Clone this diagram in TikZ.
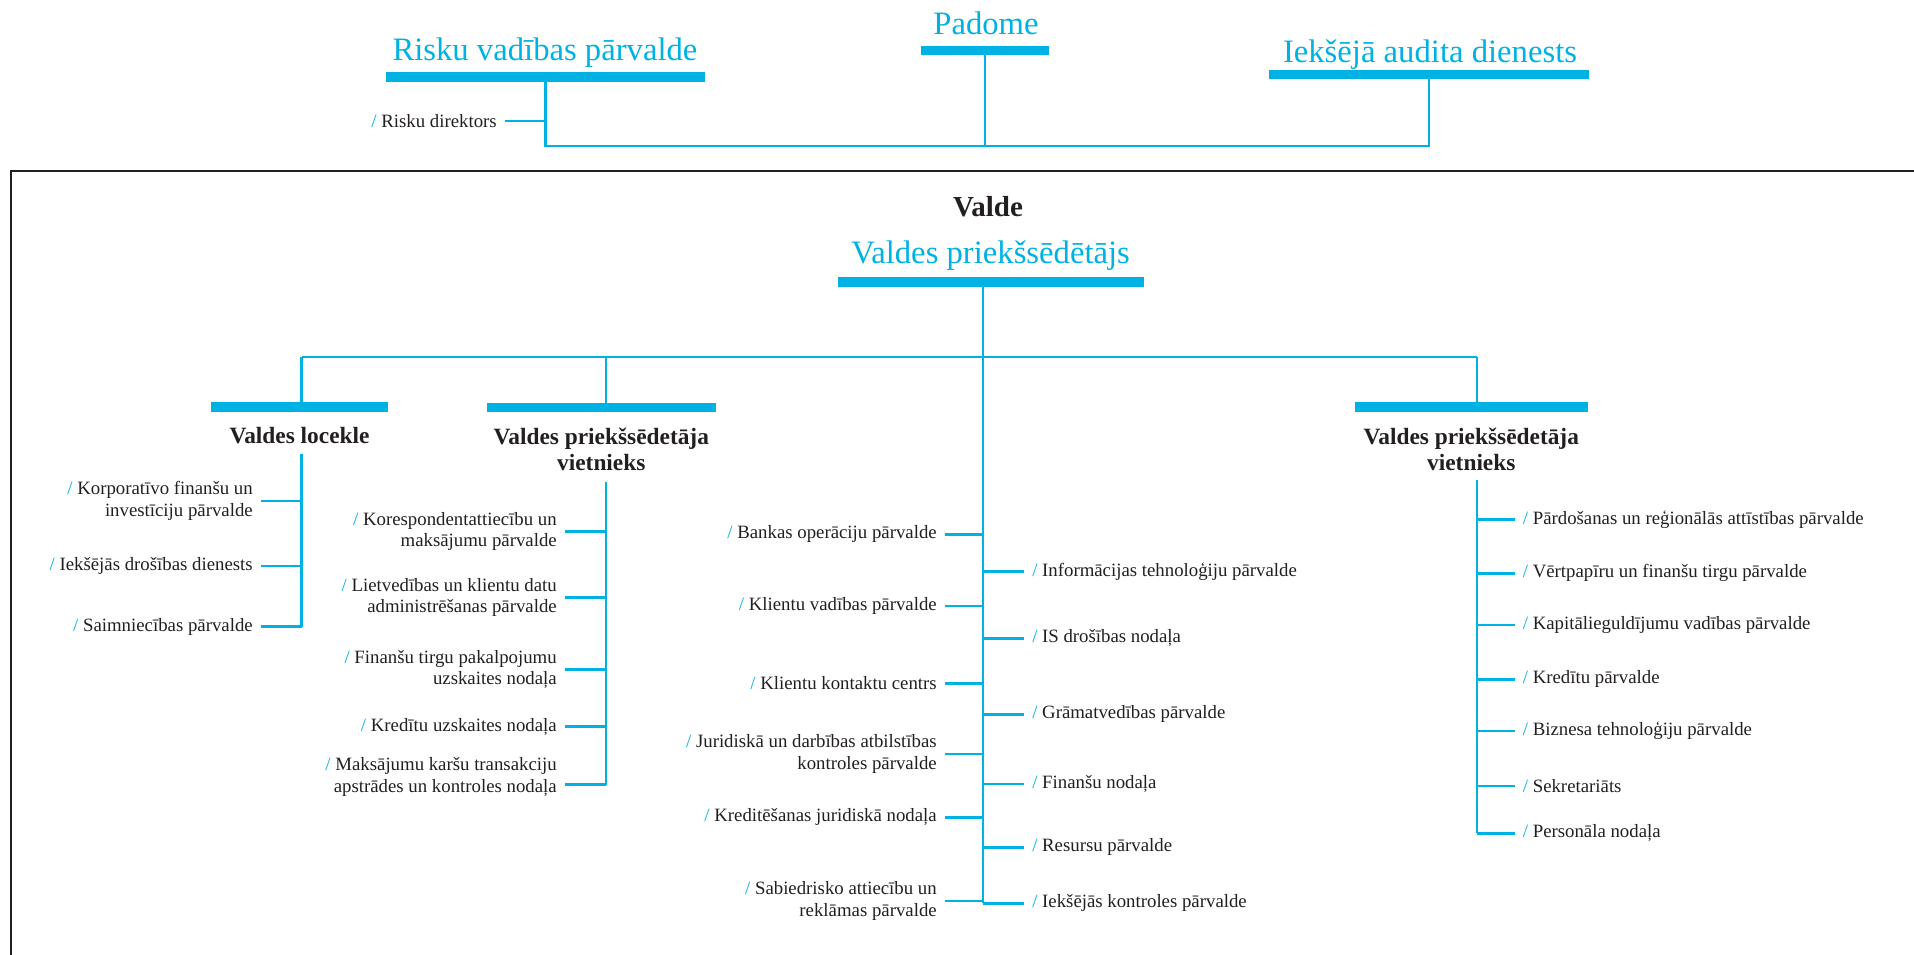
\documentclass[tikz,border=0pt]{standalone}
\usepackage{fontspec}
\setmainfont{Liberation Serif}
\usepackage{xcolor}
\usepackage{tikz}
\usetikzlibrary{positioning}

\definecolor{orgblue}{RGB}{0,178,228}
\definecolor{orgdark}{RGB}{35,31,32}
\newcommand{\slashmark}{{\color{orgblue}/}\ }

\begin{document}
\begin{tikzpicture}[
    x=0.02cm, y=-0.02cm,
    bar/.style={fill=orgblue, inner sep=0, outer sep=0, minimum height=0.19cm},
    bigtitle/.style={anchor=base, inner sep=0, text=orgblue, font=\fontsize{18.6}{22}\selectfont},
    subhead/.style={align=center, inner sep=0, text=orgdark, font=\fontsize{13.3}{14.8}\selectfont\bfseries},
    item/.style={inner xsep=4.5pt, inner ysep=0pt, text=orgdark, font=\fontsize{10.7}{12.2}\selectfont},
    lefti/.style={item, anchor=east, align=right},
    righti/.style={item, anchor=west, align=left},
    link/.style={draw=orgblue, line width=1.25pt},
    spine/.style={draw=orgblue, line width=1.6pt},
]
\useasboundingbox (0,0) rectangle (1914,955);

% top level
\node [bigtitle] (padome) at (986,35) {Padome};
\node [bar, minimum width=2.56cm] (padbar) at (985,50.5) {};
\node [bigtitle] (risk) at (545,61) {Risku vadības pārvalde};
\node [bar, minimum width=6.38cm] (riskbar) at (545.5,77) {};
\node [bigtitle] (audit) at (1430,62.7) {Iekšējā audita dienests};
\node [bar, minimum width=6.4cm] (auditbar) at (1429,74.7) {};
\node [lefti] (rdir) at (505,121) {\slashmark Risku direktors};
\coordinate (topbus) at (986,146);
\draw [link] (riskbar.south) |- (topbus) -| (auditbar.south);
\draw [link] (padbar.south) -- (padbar.south |- topbus);
\draw [link] (rdir.east) -- (rdir.east -| riskbar.south);

% board frame
\draw [orgdark, line width=1.1pt] (1914,171) -- (11,171) -- (11,955);

\node [anchor=base, inner sep=0, text=orgdark, font=\fontsize{16.5}{20}\selectfont\bfseries] (valde) at (988,216.7) {Valde};
\node [bigtitle] (chair) at (990.6,263.3) {Valdes priekšsēdētājs};
\node [bar, minimum width=6.14cm] (chairbar) at (991,282) {};

\node [bar, minimum width=3.54cm] (vlbar) at (299.5,407) {};
\node [bar, minimum width=4.58cm] (v1bar) at (601.3,407.5) {};
\node [bar, minimum width=4.66cm] (v2bar) at (1471.3,407) {};
\node [subhead, below=0.31cm of vlbar] (vlhead) {Valdes locekle};
\node [subhead, below=0.31cm of v1bar] (v1head) {Valdes priekšsēdetāja\\vietnieks};
\node [subhead, below=0.31cm of v2bar] (v2head) {Valdes priekšsēdetāja\\vietnieks};

\coordinate (vlup) at (301.5,357);
\coordinate (v1up) at (606,357);
\coordinate (cup) at (983,357);
\coordinate (v2up) at (1477,357);
\draw [link] (vlup) -- (v2up);
\draw [link] (cup |- chairbar.south) -- (cup);
\draw [link] (vlup) -- (vlup |- vlbar.north);
\draw [link] (v1up) -- (v1up |- v1bar.north);
\draw [link] (v2up) -- (v2up |- v2bar.north);

% Valdes locekle
\foreach \nm/\y/\txt in {vl1/501/{Korporatīvo finanšu un\\investīciju pārvalde},
                         vl2/566/{Iekšējās drošības dienests},
                         vl3/626.7/{Saimniecības pārvalde}} {
  \node [lefti] (\nm) at (261,\y) {\slashmark\txt};
  \draw [spine] (\nm.east) -- (\nm.east -| vlup);
}
\draw [spine] (vlup |- 0,454) -- (vlup |- vl3.east);

% vietnieks 1
\foreach \nm/\y/\txt in {p1/531.3/{Korespondentattiecību un\\maksājumu pārvalde},
                         p2/597.3/{Lietvedības un klientu datu\\administrēšanas pārvalde},
                         p3/669.3/{Finanšu tirgu pakalpojumu\\uzskaites nodaļa},
                         p4/726.5/{Kredītu uzskaites nodaļa}} {
  \node [lefti] (\nm) at (565,\y) {\slashmark\txt};
  \draw [spine] (\nm.east) -- (\nm.east -| v1up);
}
\node [lefti] (p5) at (565,777) {\slashmark Maksājumu karšu transakciju\\apstrādes un kontroles nodaļa};
\draw [spine] ([yshift=-4.3pt]p5.east) coordinate (p5t) -- (p5t -| v1up);
\draw [spine] (v1up |- 0,481.7) -- (v1up |- p5t);

% priekšsēdētājs
\foreach \nm/\y/\txt in {c1/534.3/{Bankas operāciju pārvalde},
                         c2/606/{Klientu vadības pārvalde},
                         c3/683.3/{Klientu kontaktu centrs},
                         c4/754/{Juridiskā un darbības atbilstības\\kontroles pārvalde},
                         c5/817.3/{Kreditēšanas juridiskā nodaļa},
                         c6/901/{Sabiedrisko attiecību un\\reklāmas pārvalde}} {
  \node [lefti] (\nm) at (945,\y) {\slashmark\txt};
  \draw [spine] (\nm.east) -- (\nm.east -| cup);
}
\foreach \nm/\y/\txt in {d1/571.7/{Informācijas tehnoloģiju pārvalde},
                         d2/638.3/{IS drošības nodaļa},
                         d3/714.3/{Grāmatvedības pārvalde},
                         d4/784/{Finanšu nodaļa},
                         d5/847.3/{Resursu pārvalde},
                         d6/903.3/{Iekšējās kontroles pārvalde}} {
  \node [righti] (\nm) at (1024,\y) {\slashmark\txt};
  \draw [spine] (\nm.west) -- (\nm.west -| cup);
}
\draw [spine] (cup) -- (cup |- d6.west);

% vietnieks 2
\foreach \nm/\y/\txt in {e1/519.3/{Pārdošanas un reģionālās attīstības pārvalde},
                         e2/573.3/{Vērtpapīru un finanšu tirgu pārvalde},
                         e3/625/{Kapitālieguldījumu vadības pārvalde},
                         e4/679.3/{Kredītu pārvalde},
                         e5/731/{Biznesa tehnoloģiju pārvalde},
                         e6/786/{Sekretariāts},
                         e7/833.3/{Personāla nodaļa}} {
  \node [righti] (\nm) at (1514.6,\y) {\slashmark\txt};
  \draw [spine] (\nm.west) -- (\nm.west -| v2up);
}
\draw [spine] (v2up |- 0,480) -- (v2up |- e7.west);
\end{tikzpicture}
\end{document}
